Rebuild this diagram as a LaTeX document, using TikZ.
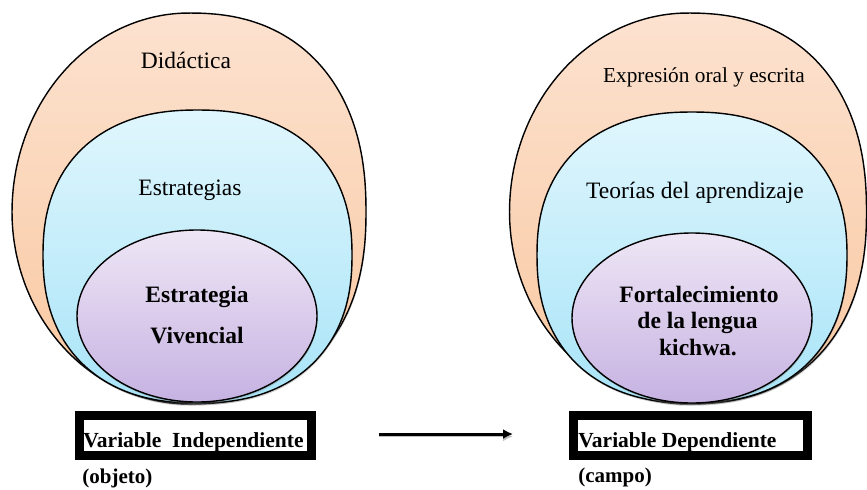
\documentclass[tikz,border=0pt]{standalone}
\usepackage{fontspec}
\setmainfont{Liberation Serif}
\newfontfamily\timesface{Liberation Serif}
\usetikzlibrary{%
    arrows.meta,
    positioning,
    shadows,
    shapes.geometric
}
\definecolor{peachtop}{RGB}{252,226,208}
\definecolor{peachbot}{RGB}{249,200,160}
\definecolor{cyantop}{RGB}{224,246,253}
\definecolor{cyanbot}{RGB}{168,228,248}
\definecolor{lilactop}{RGB}{238,230,245}
\definecolor{lilacbot}{RGB}{198,178,226}
\tikzset{headarrow/.style = {-{Latex[length=5pt,width=5pt]}, line width=1.5pt}}
% centre x, centre y, x radius, upper radius, lower radius, left and right exponent
\tikzset{zonepath/.style n args = {7}{insert path = {
    plot[domain=2.5:357.5, samples=72, smooth cycle, variable=\t]
    ({#1 + #3*cos(\t)*abs(cos(\t))^(2/(cos(\t)>0 ? #7 : #6)-1)},
     {#2 - (sin(\t)>0 ? #4 : #5)*sin(\t)*abs(sin(\t))^(2/(cos(\t)>0 ? #7 : #6)-1)})}}}

\begin{document}
\begin{tikzpicture}[
    x=0.5pt, y=-0.5pt,
    zone/.style = {draw, line width=.7pt,
        drop shadow={shadow xshift=.3pt, shadow yshift=-.9pt, opacity=.35}},
    outerzone/.style = {zone, top color=peachtop, bottom color=peachbot},
    midzone/.style = {zone, top color=cyantop, bottom color=cyanbot},
    corezone/.style = {zone, ellipse, inner sep=0pt,
        top color=lilactop, bottom color=lilacbot},
    ringtext/.style = {font=\timesface\fontsize{11.75}{14}\selectfont, inner sep=0pt, anchor=base},
    coretext/.style = {ringtext, font=\timesface\bfseries\fontsize{11.75}{14}\selectfont},
    varbox/.style = {draw, line width=4.5pt, inner sep=0pt, minimum height=20pt},
    vartext/.style = {font=\timesface\bfseries\fontsize{10.75}{13}\selectfont, inner sep=0pt, anchor=base west}]
    \useasboundingbox (0,0) rectangle (867,489);

    % left side: object
    \path[outerzone, zonepath={189}{212}{177}{199}{192}{2}{2.3}];
    \path[midzone, zonepath={197.5}{255}{154.5}{145}{148}{2.3}{2.3}];
    \node[corezone, minimum width=120pt, minimum height=86pt] (vivencial) at (197,316) {};

    \node[ringtext] (didactica) at (186,68) {Didáctica};
    \node[ringtext] (estrategias) at (190,195) {Estrategias};
    \node[coretext] (vivA) at (197,302) {Estrategia};
    \node[coretext] (vivB) at (197,343) {Vivencial};

    % right side: field
    \path[outerzone, zonepath={688}{212}{178.5}{199}{192}{2}{2.3}];
    \path[midzone, zonepath={692}{255}{155}{143}{148}{2.3}{2.3}];
    \node[corezone, minimum width=120pt, minimum height=85pt] (kichwa) at (692,318) {};

    \node[ringtext, font=\timesface\fontsize{10.65}{13}\selectfont] (expresion) at (704,82) {Expresión oral y escrita};
    \node[ringtext] (teorias) at (695,198) {Teorías del aprendizaje};
    \node[coretext] (kichA) at (699,302) {Fortalecimiento};
    \node[coretext] (kichB) at (697.5,328) {de la lengua};
    \node[coretext] (kichC) at (698,355) {kichwa.};

    % variable boxes
    \node[vartext] (indeptext) at (83,447) {Variable\ \ Independiente};
    \node[varbox, minimum width=116pt] (indepbox) at (195,435) {};
    \node[vartext, font=\timesface\bfseries\fontsize{10.5}{13}\selectfont] (objeto) at (82,483) {(objeto)};

    \node[vartext] (deptext) at (578,447) {Variable Dependiente};
    \node[varbox, minimum width=117pt] (depbox) at (690.5,435) {};
    \node[vartext, font=\timesface\bfseries\fontsize{10.5}{13}\selectfont] (campo) at (578,482) {(campo)};

    \coordinate (arrowtail) at (379,434);
    \coordinate (arrowtip) at (513,434);
    \draw[headarrow, preaction={draw, black!25, transform canvas={yshift=-1.2pt}}]
        (arrowtail) -- (arrowtip);
\end{tikzpicture}
\end{document}
